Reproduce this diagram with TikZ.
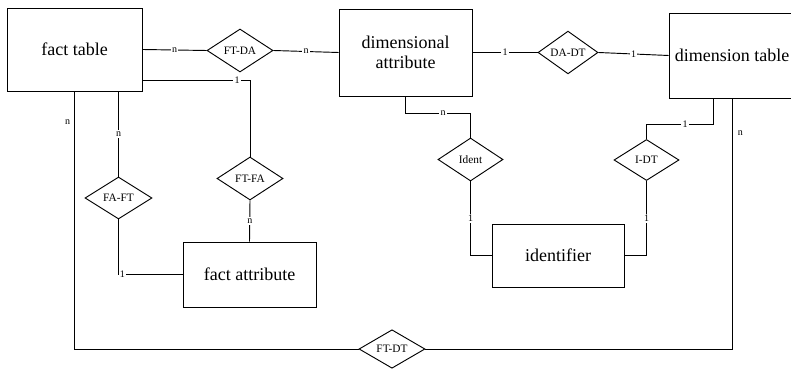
\documentclass[tikz,border=0pt]{standalone}
\usepackage{fontspec}
\setmainfont{Liberation Serif}
\usetikzlibrary{shapes.geometric,calc}

\begin{document}
\begin{tikzpicture}[x=0.75pt,y=-0.75pt,line width=0.7pt,
    entity/.style={draw,rectangle,inner sep=0pt,align=center,font=\fontsize{13.5}{15}\selectfont},
    rel/.style={draw,diamond,inner sep=0pt,fill=white,font=\fontsize{8.5}{10}\selectfont},
    card/.style={fill=white,inner sep=1pt,font=\fontsize{7.5}{8}\selectfont}]
    \useasboundingbox (0,0) rectangle (791,370);
    % entities
    \node[entity,minimum width=101.25pt,minimum height=62.25pt] (ft) at (74.5,49.5) {fact table};
    \node[entity,minimum width=99.75pt,minimum height=65.25pt] (da) at (405.5,52.5) {dimensional\\attribute};
    \node[entity,minimum width=94.5pt,minimum height=63.75pt] (dt) at (732,55.5) {dimension table};
    \node[entity,minimum width=99.75pt,minimum height=48.75pt] (fa) at (249.5,274.5) {fact attribute};
    \node[entity,minimum width=99pt,minimum height=47.25pt] (id) at (558,255.5) {identifier};
    % relations
    \node[rel,minimum width=49.5pt,minimum height=32.25pt] (ftda) at (240,50.5) {FT-DA};
    \node[rel,minimum width=45pt,minimum height=30.75pt] (dadt) at (568,52.5) {DA-DT};
    \node[rel,minimum width=49.5pt,minimum height=32.25pt] (ftfa) at (250,178.5) {FT-FA};
    \node[rel,minimum width=50.25pt,minimum height=31.5pt] (faft) at (118.5,198) {FA-FT};
    \node[rel,minimum width=48.75pt,minimum height=32.25pt] (ident) at (470.5,159.5) {Ident};
    \node[rel,minimum width=48.75pt,minimum height=30.75pt] (idt) at (646.5,160) {I-DT};
    \node[rel,minimum width=49.5pt,minimum height=28.5pt] (ftdt) at (392,349) {FT-DT};
    % connectors
    \draw (ft.east) -- node[card] {n} (ftda.west);
    \draw (ftda.east) -- node[card] {n} (da.west);
    \draw (da.east) -- node[card] {1} (dadt.west);
    \draw (dadt.east) -- node[card] {1} (dt.west);
    \draw (ft.south east) ++(0,-11) -| node[card,pos=0.44] {1} (ftfa.north);
    \draw (ftfa.south) -- node[card] {n} (fa.north);
    \draw (faft.north |- ft.south) -- node[card] {n} (faft.north);
    \draw (faft.south) |- node[card,pos=0.53] {1} (fa.west);
    \draw (ft.south) |- node[pos=0.06,left,inner sep=3pt,font=\fontsize{7.5}{8}\selectfont] {n} (ftdt.west);
    \draw (ftdt.east) -| node[pos=0.93,right,inner sep=4pt,font=\fontsize{7.5}{8}\selectfont] {n} (dt.south);
    \draw (da.south) -- ++(0,17) -| node[card,pos=0.29] {n} (ident.north);
    \draw (ident.south) |- node[card,pos=0.25] {1} (id.west);
    \draw (idt.north) -- ++(0,-15) -| node[card,pos=0.29] {1} ($(dt.south)+(-19,0)$);
    \draw (idt.south) |- node[card,pos=0.25] {1} (id.east);
\end{tikzpicture}
\end{document}
